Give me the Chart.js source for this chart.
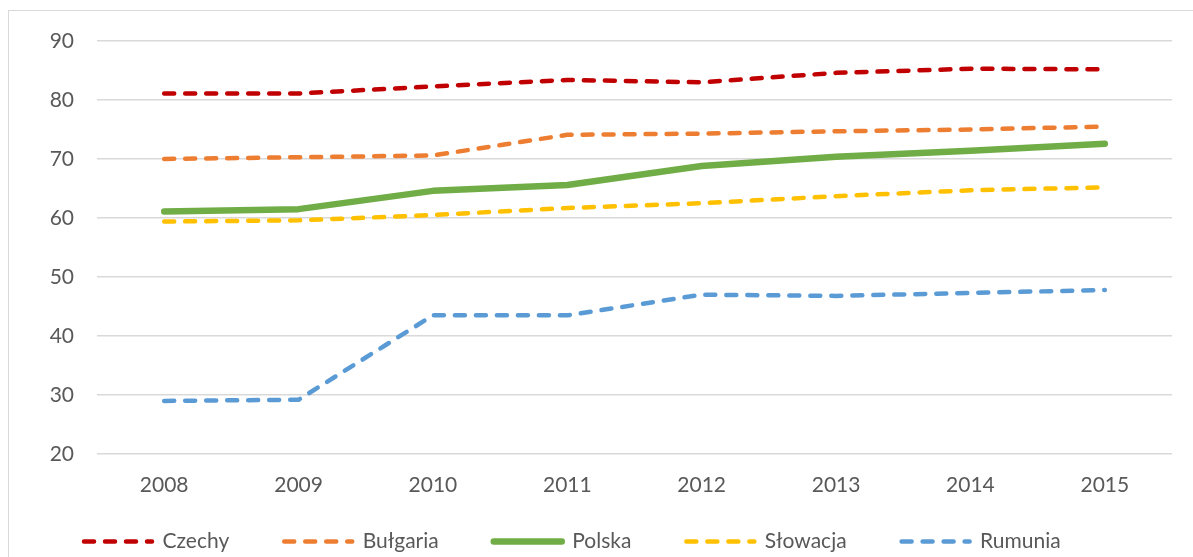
<!DOCTYPE html>
<html lang="pl">
<head>
  <meta charset="UTF-8">
  <title>Czechy, Bułgaria, Polska, Słowacja, Rumunia 2008–2015</title>
  <script src="https://cdn.jsdelivr.net/npm/chart.js"></script>
  <style>
    body {
      margin: 0;
      background: white;
      overflow: hidden;
    }
    #frame {
      position: absolute;
      left: 8px;
      top: 10px;
      width: 1250px;
      height: 600px;
      border: 1.5px solid #d9d9d9;
    }
    #chart {
      position: absolute;
      left: 0;
      top: 0;
    }
  </style>
</head>
<body>

<div id="frame"></div>
<canvas id="chart" width="1193" height="557"></canvas>

<script>
  const years = ["2008", "2009", "2010", "2011", "2012", "2013", "2014", "2015"];

  const czechy   = [81.1, 81.1, 82.3, 83.4, 83.0, 84.6, 85.3, 85.2];
  const bulgaria = [70.0, 70.3, 70.6, 74.1, 74.3, 74.7, 75.0, 75.5];
  const polska   = [61.1, 61.5, 64.6, 65.6, 68.8, 70.4, 71.4, 72.6];
  const slowacja = [59.4, 59.6, 60.5, 61.7, 62.5, 63.7, 64.7, 65.2];
  const rumunia  = [29.0, 29.2, 43.5, 43.5, 47.0, 46.8, 47.3, 47.8];

  const yTicks = { min: 20, max: 90, step: 10 };

  const textColor = '#595959';
  const gridColor = '#d9d9d9';
  const font = { family: 'Lato, "Noto Sans", sans-serif', size: 21 };

  function dashed(label, data, color) {
    return {
      label: label,
      data: data,
      borderColor: color,
      backgroundColor: color,
      borderWidth: 4.5,
      borderDash: [10, 11],
      borderCapStyle: 'round',
      borderJoinStyle: 'round',
      pointRadius: 0,
      tension: 0
    };
  }

  const datasets = [
    dashed('Czechy', czechy, '#c00000'),
    dashed('Bułgaria', bulgaria, '#ed7d31'),
    {
      label: 'Polska',
      data: polska,
      borderColor: '#70ad47',
      backgroundColor: '#70ad47',
      borderWidth: 6.5,
      borderCapStyle: 'round',
      borderJoinStyle: 'round',
      pointRadius: 0,
      tension: 0
    },
    dashed('Słowacja', slowacja, '#ffc000'),
    dashed('Rumunia', rumunia, '#5b9bd5')
  ];

  // keep the legend short so the x labels get their room, then pull its top up
  const legendPlacement = {
    id: 'legendPlacement',
    afterInit(chart) {
      const legend = chart.legend;
      const fit = legend.fit;
      legend.fit = function () {
        fit.call(this);
        this.height = 53;
      };
    },
    afterLayout(chart) {
      chart.legend.top -= 28;
    }
  };

  // legend samples take the dash and width of their line
  function lineLabels(chart) {
    const items = Chart.defaults.plugins.legend.labels.generateLabels(chart);
    items.forEach((item) => {
      const ds = chart.data.datasets[item.datasetIndex];
      item.strokeStyle = ds.borderColor;
      item.lineWidth = ds.borderWidth;
      item.lineDash = ds.borderDash || [];
      item.lineCap = 'round';
    });
    return items;
  }

  new Chart(document.getElementById('chart'), {
    type: 'line',
    data: { labels: years, datasets: datasets },
    plugins: [legendPlacement],
    options: {
      responsive: false,
      animation: false,
      devicePixelRatio: 1,
      layout: { padding: { left: 29, right: 21, top: 41, bottom: 0 } },
      plugins: {
        tooltip: { enabled: false },
        legend: {
          position: 'bottom',
          align: 'start',
          labels: {
            usePointStyle: true,
            pointStyle: 'line',
            pointStyleWidth: 68,
            padding: 55,
            color: textColor,
            font: font,
            generateLabels: lineLabels
          }
        }
      },
      scales: {
        x: {
          offset: true,
          grid: { display: false, drawTicks: false },
          border: { display: false },
          ticks: { color: textColor, font: font, padding: 19, maxRotation: 0 },
          afterFit: (s) => { s.height = 50; }
        },
        y: {
          min: yTicks.min,
          max: yTicks.max,
          grid: { color: gridColor, lineWidth: 1.5, drawTicks: false },
          border: { display: false },
          ticks: { stepSize: yTicks.step, color: textColor, font: font, padding: 23 },
          afterFit: (s) => { s.width = 68; }
        }
      }
    }
  });
</script>

</body>
</html>
